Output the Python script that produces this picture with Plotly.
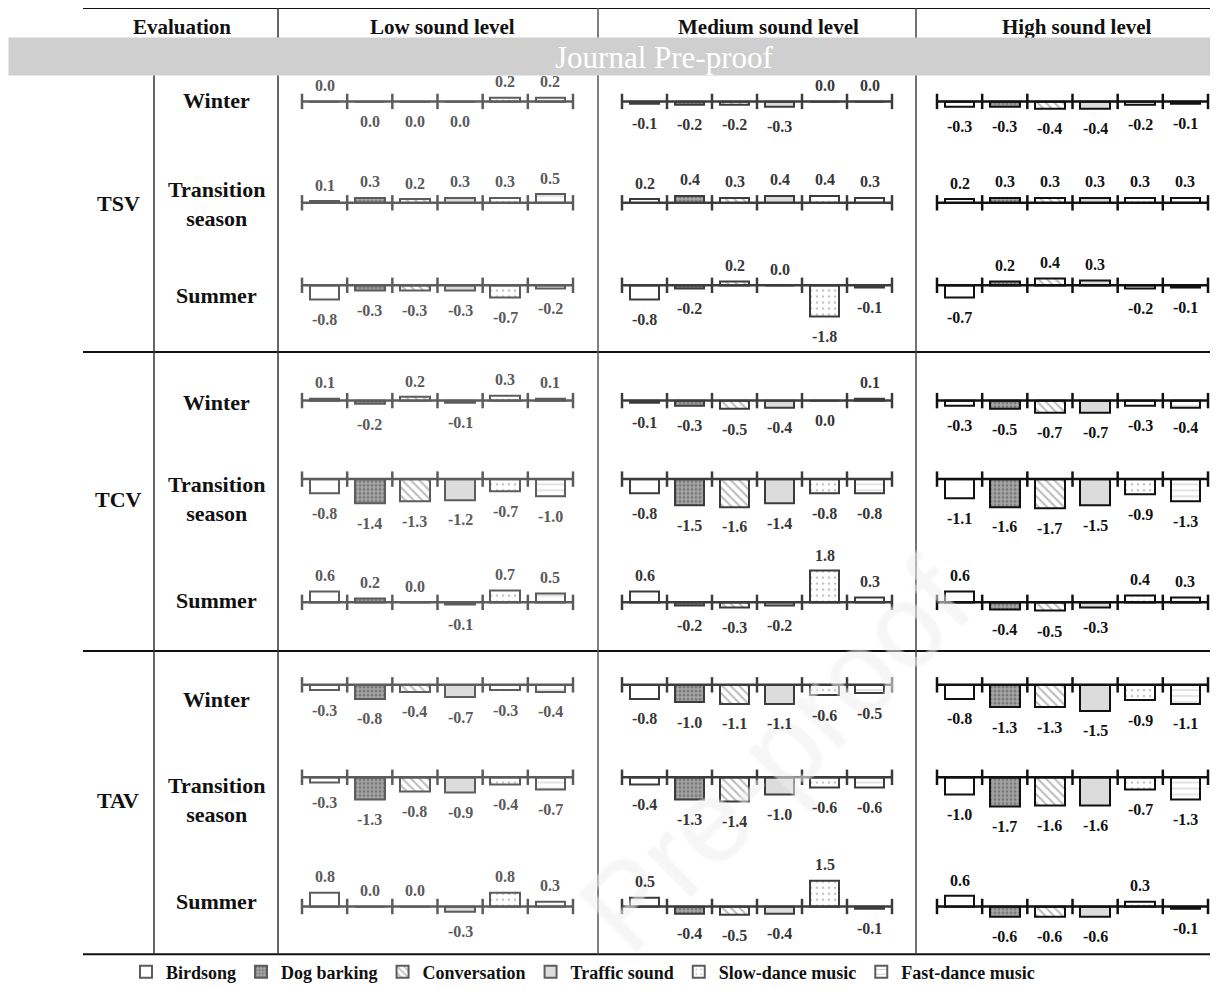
import math
import plotly.graph_objects as go

sounds = ["Birdsong", "Dog barking", "Conversation", "Traffic sound",
          "Slow-dance music", "Fast-dance music"]
levels = ["Low sound level", "Medium sound level", "High sound level"]
evaluations = ["TSV", "TCV", "TAV"]
seasons = ["Winter", "Transition<br>season", "Summer"]

# each block: [low, medium, high] sound level, values per sound type
# (-0.0 = a 0.0 value whose label is printed under the axis)
tsv_winter = [
    [0.0, -0.0, -0.0, -0.0, 0.2, 0.2],
    [-0.1, -0.2, -0.2, -0.3, 0.0, 0.0],
    [-0.3, -0.3, -0.4, -0.4, -0.2, -0.1],
]
tsv_transition = [
    [0.1, 0.3, 0.2, 0.3, 0.3, 0.5],
    [0.2, 0.4, 0.3, 0.4, 0.4, 0.3],
    [0.2, 0.3, 0.3, 0.3, 0.3, 0.3],
]
tsv_summer = [
    [-0.8, -0.3, -0.3, -0.3, -0.7, -0.2],
    [-0.8, -0.2, 0.2, 0.0, -1.8, -0.1],
    [-0.7, 0.2, 0.4, 0.3, -0.2, -0.1],
]
tcv_winter = [
    [0.1, -0.2, 0.2, -0.1, 0.3, 0.1],
    [-0.1, -0.3, -0.5, -0.4, -0.0, 0.1],
    [-0.3, -0.5, -0.7, -0.7, -0.3, -0.4],
]
tcv_transition = [
    [-0.8, -1.4, -1.3, -1.2, -0.7, -1.0],
    [-0.8, -1.5, -1.6, -1.4, -0.8, -0.8],
    [-1.1, -1.6, -1.7, -1.5, -0.9, -1.3],
]
tcv_summer = [
    [0.6, 0.2, 0.0, -0.1, 0.7, 0.5],
    [0.6, -0.2, -0.3, -0.2, 1.8, 0.3],
    [0.6, -0.4, -0.5, -0.3, 0.4, 0.3],
]
tav_winter = [
    [-0.3, -0.8, -0.4, -0.7, -0.3, -0.4],
    [-0.8, -1.0, -1.1, -1.1, -0.6, -0.5],
    [-0.8, -1.3, -1.3, -1.5, -0.9, -1.1],
]
tav_transition = [
    [-0.3, -1.3, -0.8, -0.9, -0.4, -0.7],
    [-0.4, -1.3, -1.4, -1.0, -0.6, -0.6],
    [-1.0, -1.7, -1.6, -1.6, -0.7, -1.3],
]
tav_summer = [
    [0.8, 0.0, 0.0, -0.3, 0.8, 0.3],
    [0.5, -0.4, -0.5, -0.4, 1.5, -0.1],
    [0.6, -0.6, -0.6, -0.6, 0.3, -0.1],
]

rows = [tsv_winter, tsv_transition, tsv_summer,
        tcv_winter, tcv_transition, tcv_summer,
        tav_winter, tav_transition, tav_summer]

# ---------------- layout / style ----------------
OFF = 8                      # page body margin in the browser
W, H = 1218 - OFF, 991 - OFF
ROW_ZERO_PX = [102, 204, 287, 403, 482, 606, 689, 782, 912]
COL_PX = [(302, 573), (622, 892), (937, 1208)]
PX_PER_UNIT = 17.5
HALF = 40
INK = ["#5c5c5c", "#3c3c3c", "#111111"]
TXT = ["#5a5a5a", "#363636", "#111111"]
SERIF = "Liberation Serif"

SOUND_STYLE = [
    dict(color="white"),
    dict(color="#a8a8a8", pattern=dict(shape=".", fgcolor="#4a4a4a", size=4,
                                        solidity=0.45, fillmode="overlay")),
    dict(color="white", pattern=dict(shape="\\", fgcolor="#7a7a7a", size=6,
                                      solidity=0.35, fillmode="overlay")),
    dict(color="#dcdcdc"),
    dict(color="white", pattern=dict(shape=".", fgcolor="#8a8a8a", size=6,
                                      solidity=0.15, fillmode="overlay")),
    dict(color="white", pattern=dict(shape="-", fgcolor="#a0a0a0", size=6,
                                      solidity=0.2, fillmode="overlay")),
]


def px_x(p):
    return (p - OFF) / W


def px_y(p):
    return 1 - (p - OFF) / H


def paper_text(text, x, y, size, color="#111", family=SERIF, **kw):
    d = dict(x=px_x(x), y=px_y(y), xref="paper", yref="paper", text=text,
             showarrow=False, xanchor="center", yanchor="middle",
             font=dict(family=family, size=size, color=color))
    d.update(kw)
    return d


fig = go.Figure()
layout_axes = {}
annotations = []

# faint watermark
wm = paper_text("Pre-proof", 775, 760, 118, family="Liberation Sans",
                color="rgba(255,255,255,0.15)", textangle=-45)
wm["font"]["shadow"] = ("-1px -1px 0 #e9e9e9, 1px -1px 0 #e9e9e9, "
                        "-1px 1px 0 #e9e9e9, 1px 1px 0 #e9e9e9")
annotations.append(wm)

for r, block in enumerate(rows):
    z = ROW_ZERO_PX[r]
    for c in range(3):
        idx = r * 3 + c + 1
        xa = "x" if idx == 1 else f"x{idx}"
        ya = "y" if idx == 1 else f"y{idx}"
        x0, x1 = COL_PX[c]
        layout_axes["xaxis" if idx == 1 else f"xaxis{idx}"] = dict(
            domain=[px_x(x0), px_x(x1)], range=[-0.5, 5.5], visible=False,
            anchor=ya, fixedrange=True)
        layout_axes["yaxis" if idx == 1 else f"yaxis{idx}"] = dict(
            domain=[px_y(z + HALF), px_y(z - HALF)],
            range=[-HALF / PX_PER_UNIT, HALF / PX_PER_UNIT], visible=False,
            anchor=xa, fixedrange=True)
        vals = block[c]
        for i, v in enumerate(vals):
            st = SOUND_STYLE[i]
            marker = dict(color=st["color"], line=dict(color=INK[c], width=2))
            if "pattern" in st:
                marker["pattern"] = st["pattern"]
            fig.add_trace(go.Bar(
                x=[i], y=[v], width=0.66, xaxis=xa, yaxis=ya, marker=marker,
                name=f"<b>{sounds[i]}</b>", legendgroup=sounds[i],
                showlegend=(idx == 1),
                hovertemplate=f"{sounds[i]}: %{{y:.1f}}<extra></extra>"))
            up = math.copysign(1, v) > 0
            annotations.append(dict(
                x=i, y=v, xref=xa, yref=ya, showarrow=False,
                xanchor="center", yanchor="middle",
                text=f"<b>{abs(v):.1f}</b>" if v == 0 else f"<b>{v:.1f}</b>",
                yshift=16 if up else -20,
                font=dict(family=SERIF, size=16, color=TXT[c])))
        # category axis line with boundary ticks at zero
        fig.add_trace(go.Scatter(
            x=[-0.5, 5.5], y=[0, 0], xaxis=xa, yaxis=ya, mode="lines",
            line=dict(color=INK[c], width=2.5), showlegend=False,
            hoverinfo="skip", cliponaxis=False))
        fig.add_trace(go.Scatter(
            x=[k - 0.5 for k in range(7)], y=[0] * 7, xaxis=xa, yaxis=ya,
            mode="markers", showlegend=False, hoverinfo="skip", cliponaxis=False,
            marker=dict(symbol="line-ns", size=11,
                        line=dict(color=INK[c], width=2.5))))

# table text
for txt, cx in zip(["Evaluation"] + levels, [182, 442, 768, 1077]):
    annotations.append(paper_text(f"<b>{txt}</b>", cx, 27, 21))

eval_y = [205, 503, 805]
season_y = [[101, 205, 297], [405, 502, 604], [704, 805, 907]]
for e, name in enumerate(evaluations):
    annotations.append(paper_text(f"<b>{name}</b>", 118, eval_y[e], 22))
    for s, sname in enumerate(seasons):
        annotations.append(paper_text(f"<b>{sname}</b>", 216, season_y[e][s], 22))

# "Journal Pre-proof" banner (covers what is under it)
annotations.append(dict(x=px_x(8), y=px_y(57), xref="paper", yref="paper",
                        xanchor="left", yanchor="middle", text=" ", showarrow=False,
                        width=1212, height=37, bgcolor="#cfcfcf", borderpad=0,
                        font=dict(size=10)))
annotations.append(paper_text("Journal Pre-proof", 664, 58, 31, color="white"))

shapes = []


def hline(y, x0=83, x1=1220, w=2, col="#111"):
    shapes.append(dict(type="line", xref="paper", yref="paper", x0=px_x(x0), x1=px_x(x1),
                       y0=px_y(y), y1=px_y(y), line=dict(color=col, width=w)))


def vline(x, y0, y1, w=1.5, col="#333"):
    shapes.append(dict(type="line", xref="paper", yref="paper", x0=px_x(x), x1=px_x(x),
                       y0=px_y(y0), y1=px_y(y1), line=dict(color=col, width=w)))


hline(8)
hline(354)
hline(655)
hline(960)
vline(154, 75, 960)
vline(278, 8, 960)
vline(598, 8, 960, col="#555")
vline(916, 8, 960, col="#444")

fig.update_layout(
    width=W, height=H, margin=dict(l=0, r=0, t=0, b=0),
    paper_bgcolor="white", plot_bgcolor="rgba(0,0,0,0)",
    barmode="overlay", bargap=0,
    annotations=annotations, shapes=shapes,
    showlegend=True,
    legend=dict(orientation="h", x=px_x(126), y=px_y(978), xanchor="left",
                yanchor="middle", itemwidth=30, traceorder="normal",
                font=dict(family=SERIF, size=18, color="#111"),
                bgcolor="rgba(0,0,0,0)", tracegroupgap=0),
    **layout_axes,
)

fig.write_html("out.html")
